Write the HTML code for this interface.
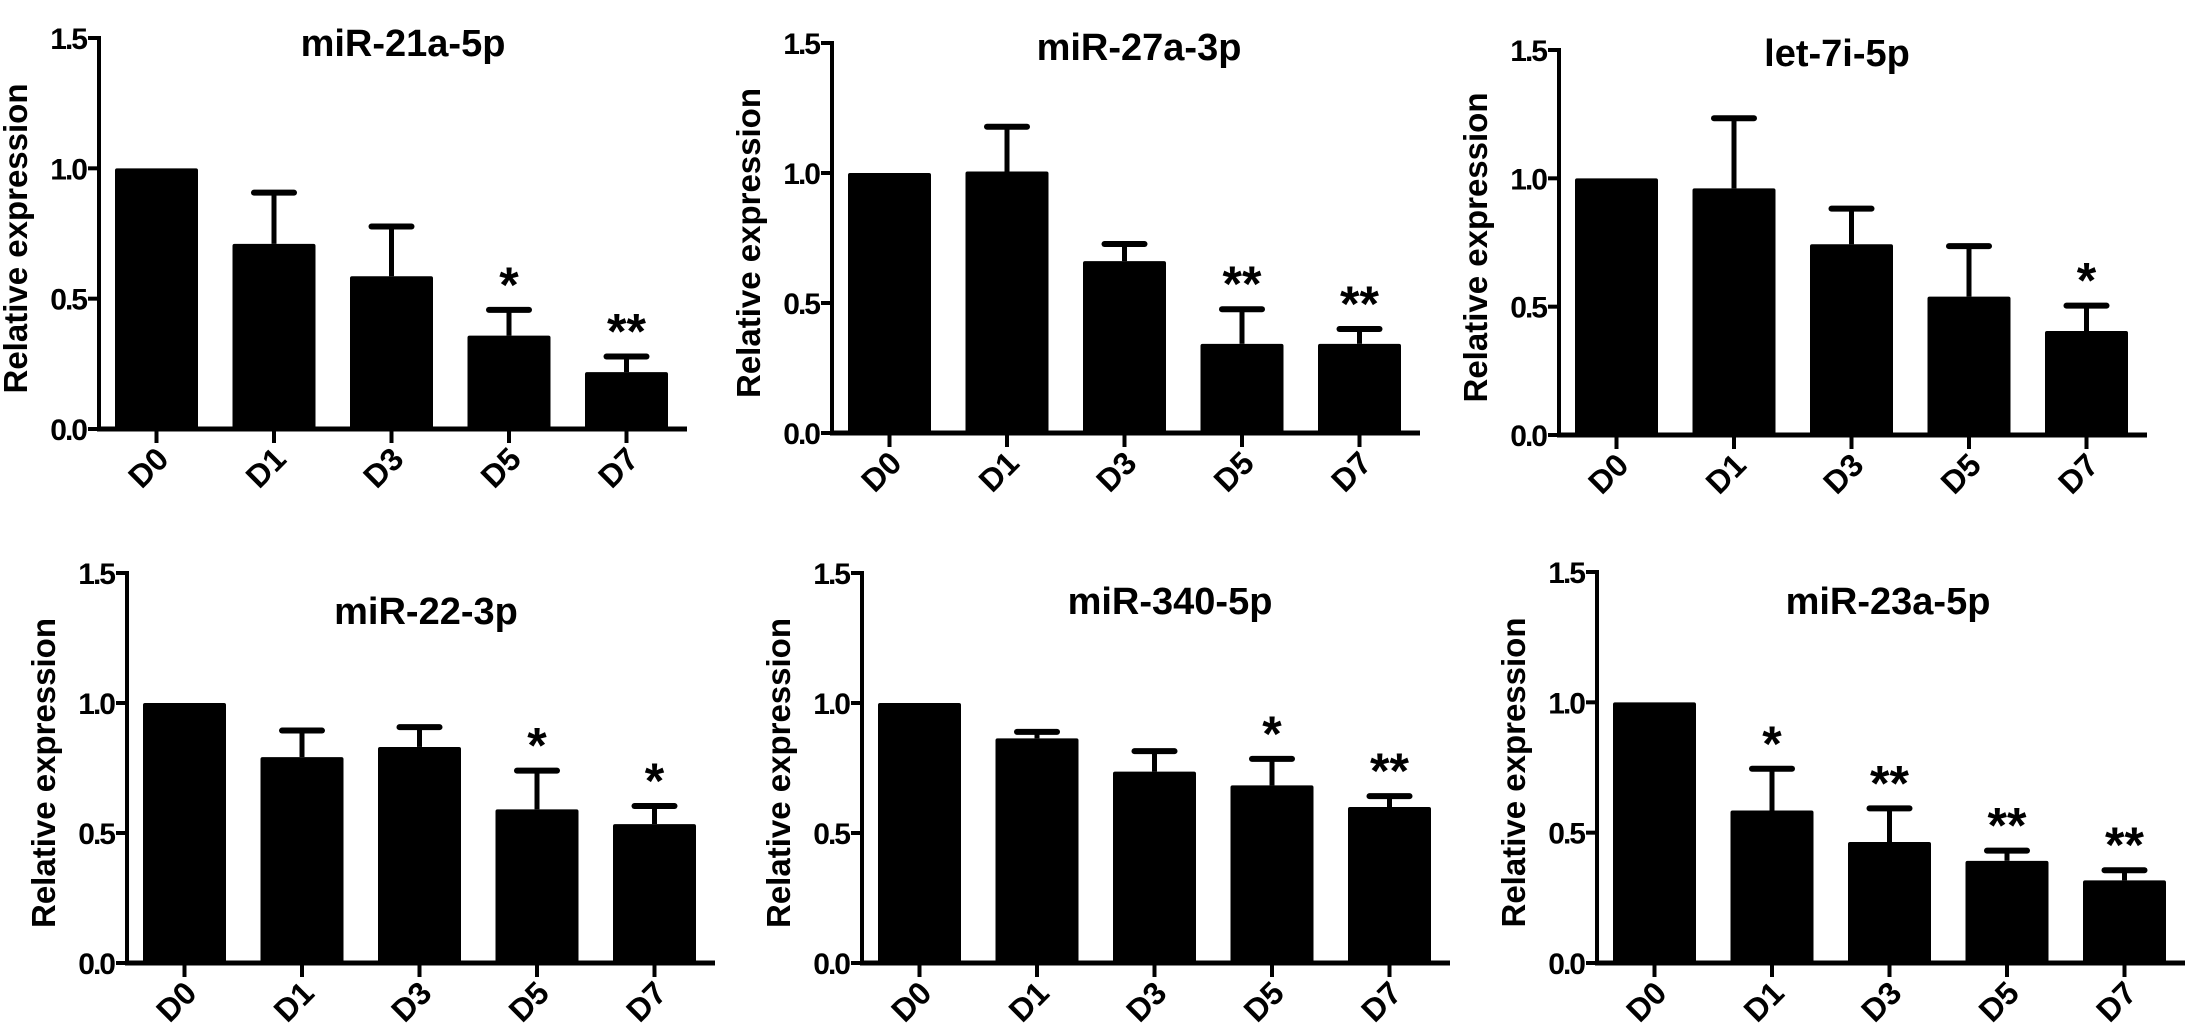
<!DOCTYPE html>
<html><head><meta charset="utf-8"><style>
html,body{margin:0;padding:0;background:#fff;}
svg{display:block;font-family:"Liberation Sans",Arial,sans-serif;font-weight:bold;}
</style></head><body>
<svg id="fig" width="2187" height="1030" viewBox="0 0 2187 1030" xmlns="http://www.w3.org/2000/svg"></svg>
<script>
const categories = ["D0","D1","D3","D5","D7"];
const yTicks = [0.0, 0.5, 1.0, 1.5];
const titles = ["miR-21a-5p","miR-27a-3p","let-7i-5p","miR-22-3p","miR-340-5p","miR-23a-5p"];
const means21 = [1.0, 0.71, 0.586, 0.358, 0.218];
const errs21  = [0, 0.197, 0.191, 0.099, 0.06];
const stars21 = ["","","","*","**"];
const means27 = [1.0, 1.006, 0.661, 0.343, 0.343];
const errs27  = [0, 0.172, 0.066, 0.133, 0.057];
const stars27 = ["","","","**","**"];
const meansLet7 = [1.0, 0.961, 0.743, 0.539, 0.405];
const errsLet7  = [0, 0.273, 0.139, 0.197, 0.099];
const starsLet7 = ["","","","","*"];
const means22 = [1.0, 0.792, 0.831, 0.591, 0.534];
const errs22  = [0, 0.102, 0.076, 0.149, 0.07];
const stars22 = ["","","","*","*"];
const means340 = [1.0, 0.864, 0.736, 0.683, 0.600];
const errs340  = [0, 0.025, 0.079, 0.102, 0.042];
const stars340 = ["","","","*","**"];
const means23 = [1.0, 0.585, 0.464, 0.392, 0.317];
const errs23  = [0, 0.16, 0.129, 0.039, 0.039];
const stars23 = ["","*","**","**","**"];

const NS = "http://www.w3.org/2000/svg";
const svg = document.getElementById('fig');
function mk(tag, attrs, parent){
  const e = document.createElementNS(NS, tag);
  for (const k in attrs) e.setAttribute(k, attrs[k]);
  (parent||svg).appendChild(e);
  return e;
}
const panels = [
  {ax:99, y0:429, y15:38, title:titles[0], m:means21, e:errs21, s:stars21, tx:403, ty:56},
  {ax:832, y0:433, y15:43, title:titles[1], m:means27, e:errs27, s:stars27, tx:1139, ty:60},
  {ax:1559, y0:435, y15:50, title:titles[2], m:meansLet7, e:errsLet7, s:starsLet7, tx:1837, ty:66},
  {ax:127, y0:963, y15:573, title:titles[3], m:means22, e:errs22, s:stars22, tx:426, ty:624},
  {ax:862, y0:963, y15:573, title:titles[4], m:means340, e:errs340, s:stars340, tx:1170, ty:614},
  {ax:1597, y0:963, y15:572, title:titles[5], m:means23, e:errs23, s:stars23, tx:1888, ty:614}
];
panels.forEach((p, pi) => {
  const g = mk('g', {});
  
  
  const yScale = v => p.y0 - (p.y0 - p.y15) * v / 1.5;
  const xLeft = i => p.ax + 16 + i * 117.5;
  const bw = 83;
  categories.forEach((c, i) => {
    const x = xLeft(i), cx = x + bw/2;
    const top = yScale(p.m[i]);
    const r = mk('rect', {x:x, y:top, width:bw, height:p.y0 - top, fill:'#000', rx:2}, g);
    
    
    let capY = top;
    if (p.e[i] > 0) {
      capY = yScale(p.m[i] + p.e[i]);
      const l = mk('line', {x1:cx, y1:top, x2:cx, y2:capY, stroke:'#000', 'stroke-width':5}, g);
      
      
      const cap = mk('line', {x1:cx-20, y1:capY, x2:cx+20, y2:capY, stroke:'#000', 'stroke-width':6, 'stroke-linecap':'round'}, g);
      
      
    }
    if (p.s[i]) {
      const t = mk('text', {x:cx, y:capY - 8, 'text-anchor':'middle', 'font-size':50}, g);
      t.textContent = p.s[i];
      
      
    }
    const tk = mk('line', {x1:cx, y1:p.y0, x2:cx, y2:p.y0+14, stroke:'#000', 'stroke-width':4}, g);
    
    
    const lx = cx + 14, ly = p.y0 + 32;
    const lb = mk('text', {x:lx, y:ly, 'text-anchor':'end', 'font-size':32, transform:'rotate(-45 '+lx+' '+ly+')'}, g);
    lb.textContent = c;
    
    
  });
  const ya = mk('line', {x1:p.ax, y1:p.y15-2, x2:p.ax, y2:p.y0+2, stroke:'#000', 'stroke-width':4}, g);
  
  
  const xa = mk('line', {x1:p.ax-2, y1:p.y0, x2:p.ax+588, y2:p.y0, stroke:'#000', 'stroke-width':5}, g);
  
  
  yTicks.forEach(v => {
    const y = yScale(v);
    const t = mk('line', {x1:p.ax-11, y1:y, x2:p.ax, y2:y, stroke:'#000', 'stroke-width':4}, g);
    
    
    const lb = mk('text', {x:p.ax-13, y:y+11, 'text-anchor':'end', 'font-size':30, 'letter-spacing':-2}, g);
    lb.textContent = v.toFixed(1);
    
    
  });
  const yl = (p.y0 + p.y15)/2 + 5, xl = p.ax - 72;
  const yt = mk('text', {x:xl, y:yl, 'text-anchor':'middle', 'font-size':33, transform:'rotate(-90 '+xl+' '+yl+')'}, g);
  yt.textContent = 'Relative  expression';
  
  
  const tt = mk('text', {x:p.tx, y:p.ty, 'text-anchor':'middle', 'font-size':38}, g);
  tt.textContent = p.title;
  
  
});
</script>
</body></html>
